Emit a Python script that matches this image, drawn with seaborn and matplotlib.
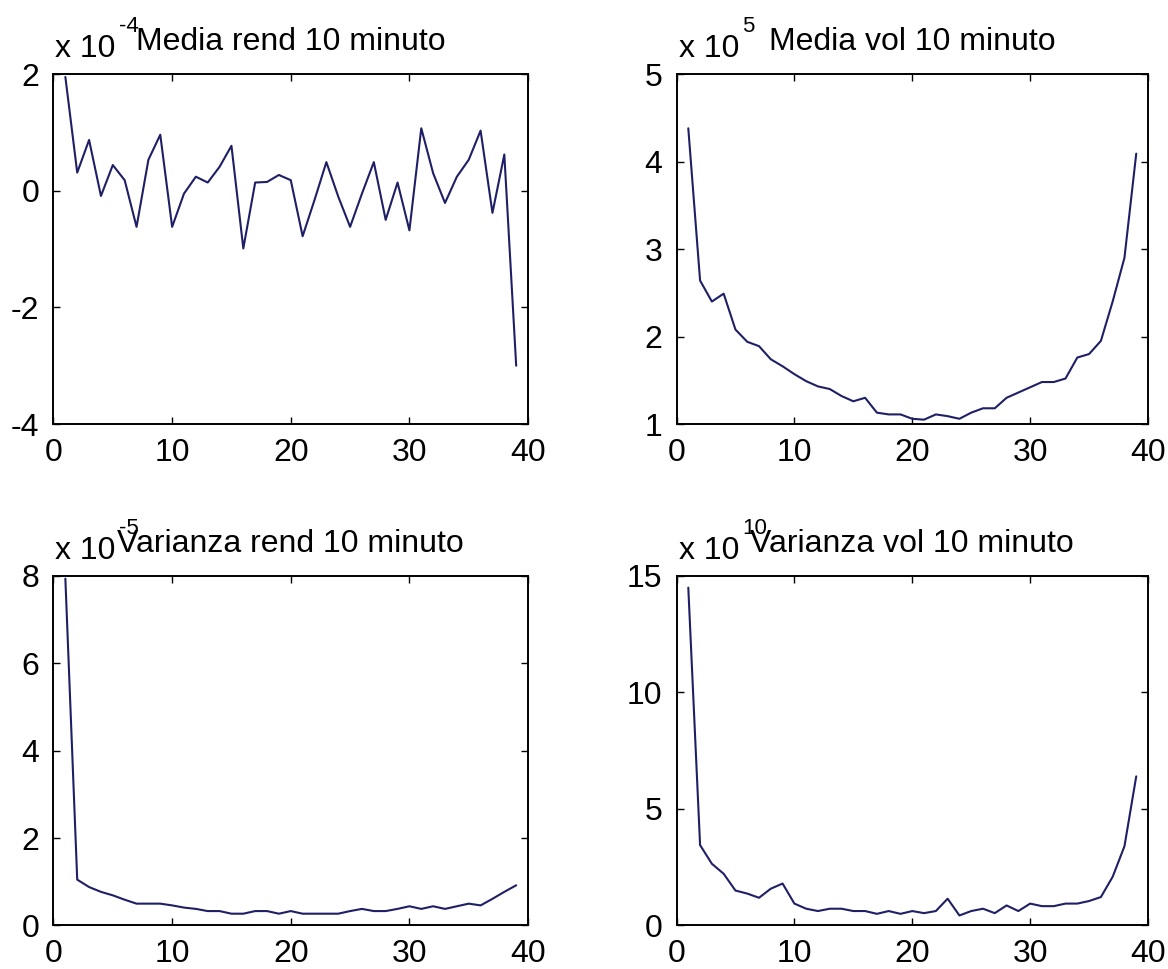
import matplotlib
matplotlib.use("Agg")
import matplotlib.pyplot as plt
import seaborn as sns

# valori: 39 intervalli da 10 minuti
minuti = list(range(1, 40))

# media dei rendimenti (x 10^-4)
media_rend = [1.95, 0.31, 0.87, -0.09, 0.44, 0.18, -0.62, 0.53, 0.96, -0.62,
              -0.05, 0.24, 0.14, 0.41, 0.77, -0.99, 0.14, 0.15, 0.27, 0.18,
              -0.78, -0.16, 0.49, -0.10, -0.62, -0.05, 0.49, -0.50, 0.14, -0.68,
              1.07, 0.30, -0.21, 0.24, 0.53, 1.03, -0.38, 0.62, -3.0]

# media dei volumi (x 10^5)
media_vol = [4.38, 2.64, 2.40, 2.49, 2.08, 1.94, 1.89, 1.74, 1.66, 1.57,
             1.49, 1.43, 1.40, 1.32, 1.26, 1.30, 1.13, 1.11, 1.11, 1.06,
             1.05, 1.11, 1.09, 1.06, 1.13, 1.18, 1.18, 1.30, 1.36, 1.42,
             1.48, 1.48, 1.52, 1.76, 1.80, 1.95, 2.40, 2.90, 4.09]

# varianza dei rendimenti (x 10^-5)
varianza_rend = [7.94, 1.05, 0.88, 0.77, 0.69, 0.59, 0.50, 0.50, 0.50, 0.46,
                 0.41, 0.38, 0.33, 0.33, 0.27, 0.27, 0.33, 0.33, 0.27, 0.33,
                 0.27, 0.27, 0.27, 0.27, 0.33, 0.38, 0.33, 0.33, 0.38, 0.44,
                 0.38, 0.44, 0.38, 0.44, 0.50, 0.46, 0.61, 0.77, 0.92]

# varianza dei volumi (x 10^10)
varianza_vol = [14.5, 3.45, 2.65, 2.22, 1.50, 1.37, 1.19, 1.58, 1.80, 0.94,
                0.72, 0.62, 0.72, 0.72, 0.62, 0.62, 0.50, 0.62, 0.50, 0.62,
                0.53, 0.62, 1.15, 0.43, 0.62, 0.72, 0.53, 0.86, 0.62, 0.94,
                0.83, 0.83, 0.94, 0.94, 1.05, 1.22, 2.09, 3.40, 6.40]

titoli = ["Media rend 10 minuto", "Media vol 10 minuto",
          "Varianza rend 10 minuto", "Varianza vol 10 minuto"]
esponenti = ["-4", "5", "-5", "10"]
serie = [media_rend, media_vol, varianza_rend, varianza_vol]
limiti_y = [(-4, 2), (1, 5), (0, 8), (0, 15)]
tick_y = [[-4, -2, 0, 2], [1, 2, 3, 4, 5], [0, 2, 4, 6, 8], [0, 5, 10, 15]]

sns.set_style("white")
plt.rcParams['font.family'] = ['Liberation Sans', 'DejaVu Sans']
plt.rcParams['axes.unicode_minus'] = False
plt.rcParams['text.color'] = 'black'

fig = plt.figure(figsize=(11.68, 9.69), dpi=100)

# posizioni dei 4 riquadri (frazioni della figura)
posizioni = [
    [0.0458, 0.5624, 0.4063, 0.3612],
    [0.5792, 0.5624, 0.4037, 0.3612],
    [0.0458, 0.0449, 0.4063, 0.3607],
    [0.5792, 0.0449, 0.4037, 0.3607],
]

for i in range(4):
    ax = fig.add_axes(posizioni[i])
    sns.lineplot(x=minuti, y=serie[i], ax=ax, color="#1f1f66", linewidth=1.5)
    ax.set_xlim(0, 40)
    ax.set_xticks([0, 10, 20, 30, 40])
    ax.set_ylim(*limiti_y[i])
    ax.set_yticks(tick_y[i])
    ax.set_xlabel("")
    ax.set_ylabel("")
    ax.tick_params(direction="in", length=5, width=1, top=True, right=True,
                   bottom=True, left=True, labelsize=23, colors="black")
    ax.tick_params(axis="x", pad=10)
    ax.tick_params(axis="y", pad=10)
    for s in ax.spines.values():
        s.set_visible(True)
        s.set_linewidth(1.4)
        s.set_color("black")

    # titolo e fattore di scala in stile matlab
    ax.annotate(titoli[i], xy=(0.5, 1), xycoords="axes fraction",
                xytext=(0, 24), textcoords="offset pixels",
                ha="center", va="baseline", fontsize=23, color="black")
    base = ax.annotate("x 10", xy=(0, 1), xycoords="axes fraction",
                       xytext=(2, 17), textcoords="offset pixels",
                       ha="left", va="baseline", fontsize=23, color="black")
    ax.annotate(esponenti[i], xy=(1, 1), xycoords=(base, "axes fraction"),
                xytext=(3, 42), textcoords="offset pixels",
                ha="left", va="baseline", fontsize=16, color="black")

fig.savefig("out.png", dpi=100)
